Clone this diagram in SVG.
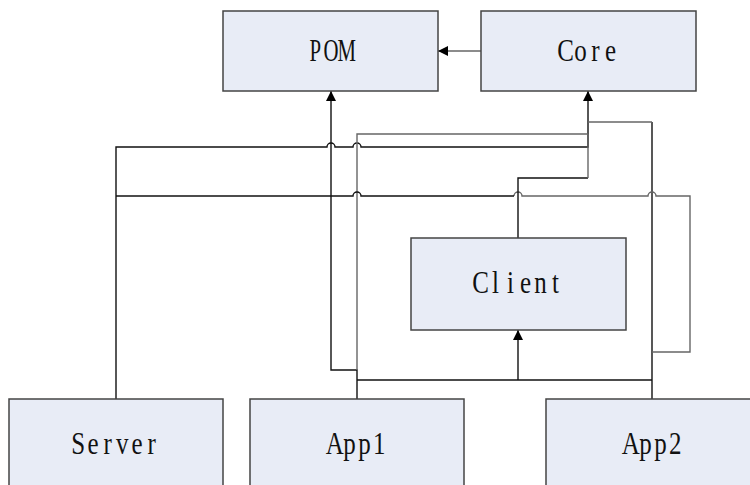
<svg xmlns="http://www.w3.org/2000/svg" width="750" height="485" viewBox="0 0 750 485">
<style>
.box{fill:#E8ECF6;stroke:#444;stroke-width:1.5}
.lbl{font-family:"Liberation Serif","Times New Roman",serif;font-size:32px;fill:#111;text-anchor:middle}
.c{fill:none;stroke:#111;stroke-width:1.4}
.g{fill:none;stroke:#666;stroke-width:1.4}
</style>
<defs>
<marker id="arr" markerUnits="userSpaceOnUse" markerWidth="10" markerHeight="10" refX="10" refY="5" orient="auto">
<path d="M0,0 L10,5 L0,10 z" fill="#000"/>
</marker>
</defs>
<rect width="750" height="485" fill="#fff"/>
<g id="connectors">
<path class="g" d="M481,51 H438" marker-end="url(#arr)"/>
<path class="c" d="M116,399 V147 H327 a4,4 0 0 1 8,0 H353 a4,4 0 0 1 8,0 H588 V91" marker-end="url(#arr)"/>
<path class="c" d="M116,196 H331"/>
<path class="c" d="M357,399 V370 H331 V91" marker-end="url(#arr)"/>
<path class="g" d="M357,370 V134 H588"/>
<path class="c" d="M652,399 V122"/>
<path class="g" d="M652,122 H588"/>
<path class="g" d="M652,352 H690 V196 H656 a4,4 0 0 0 -8,0 H522 a4,4 0 0 0 -8,0"/>
<path class="c" d="M514,196 H361 a4,4 0 0 0 -8,0 H331"/>
<path class="c" d="M518,238 V178 H588"/>
<path class="g" d="M588,178 V134"/>
<path class="c" d="M357,380 H652"/>
<path class="c" d="M518,380 V330" marker-end="url(#arr)"/>
</g>
<g id="pom"><rect class="box" x="223" y="11" width="215" height="80"/><text class="lbl" transform="translate(331,61) scale(0.65,1)" x="-24.15 0 24.15" y="0">POM</text></g>
<g id="core"><rect class="box" x="481" y="11" width="215" height="80"/><text class="lbl" transform="translate(588,61) scale(0.78,1)" x="-28.85 -9.62 9.62 28.85" y="0">Core</text></g>
<g id="client"><rect class="box" x="411" y="238" width="215" height="92"/><text class="lbl" transform="translate(518,293) scale(0.78,1)" x="-48.08 -28.85 -9.62 9.62 28.85 48.08" y="0">Client</text></g>
<g id="server"><rect class="box" x="9" y="399" width="214" height="100"/><text class="lbl" transform="translate(115,454) scale(0.78,1)" x="-47.12 -28.27 -9.42 9.42 28.27 47.12" y="0">Server</text></g>
<g id="app1"><rect class="box" x="250" y="399" width="214" height="100"/><text class="lbl" transform="translate(357,454) scale(0.78,1)" x="-28.46 -9.49 9.49 28.46" y="0">App1</text></g>
<g id="app2"><rect class="box" x="546" y="399" width="214" height="100"/><text class="lbl" transform="translate(653,454) scale(0.78,1)" x="-28.46 -9.49 9.49 28.46" y="0">App2</text></g>
</svg>
